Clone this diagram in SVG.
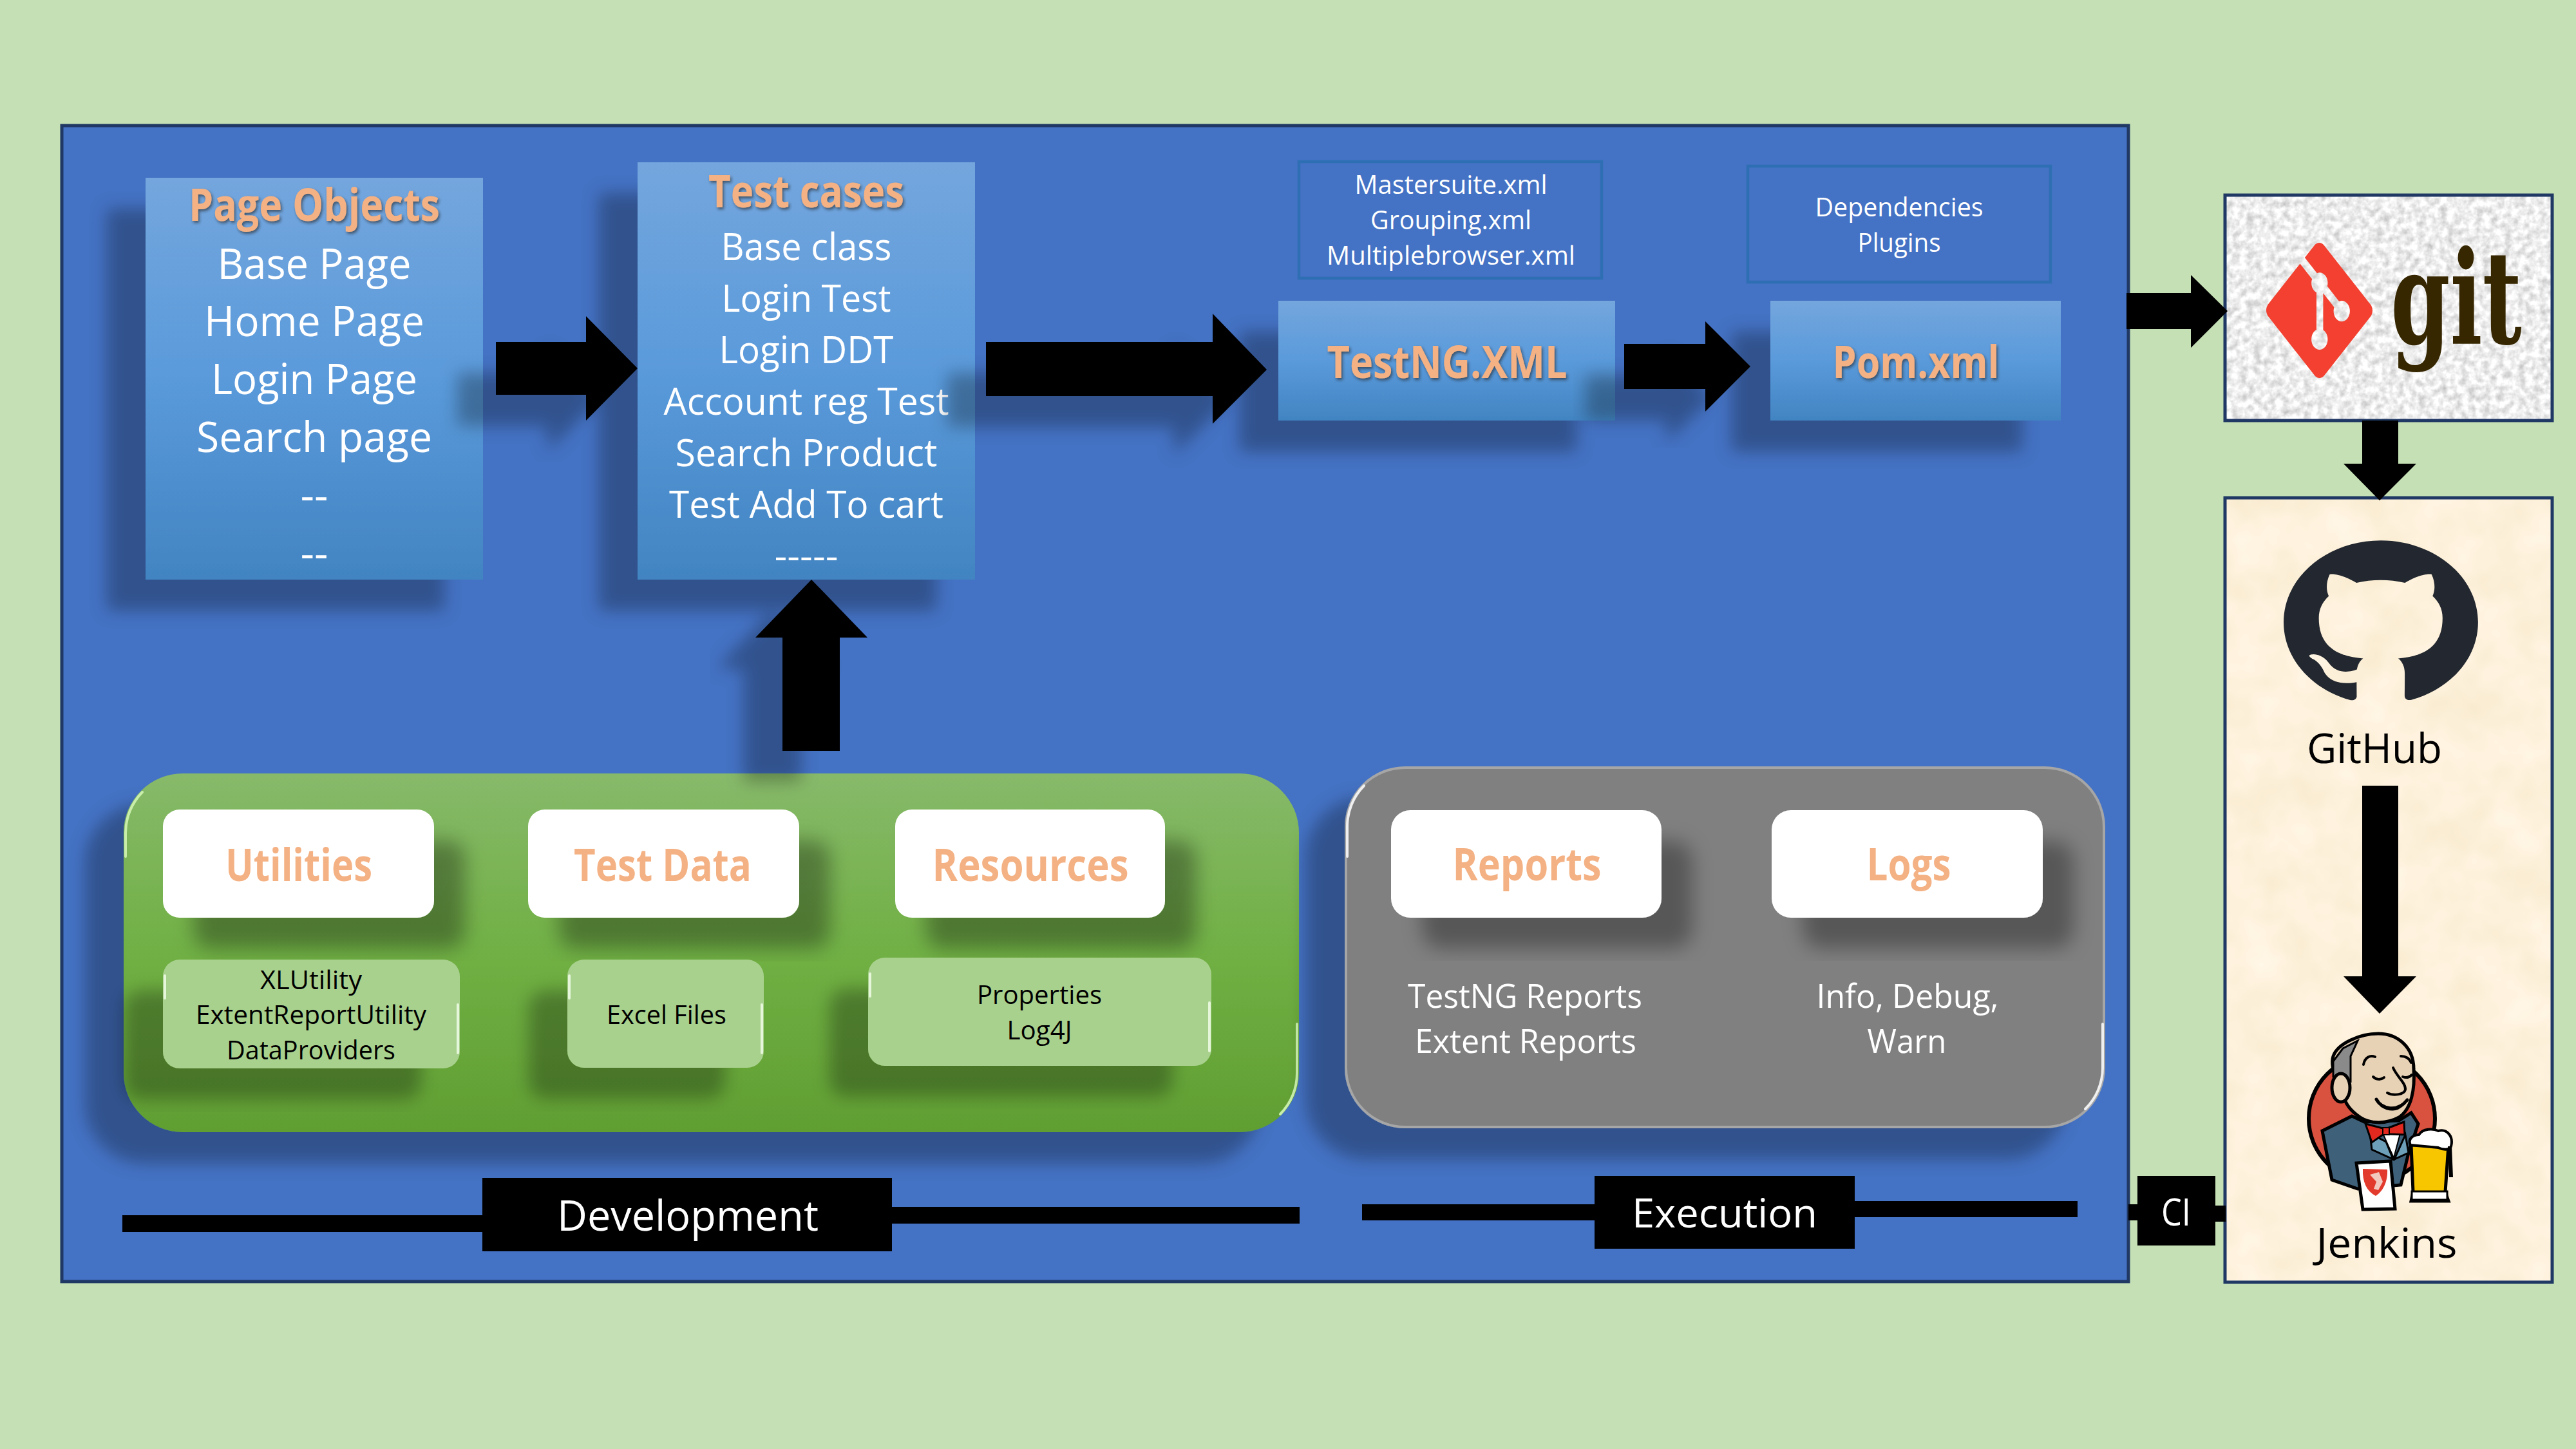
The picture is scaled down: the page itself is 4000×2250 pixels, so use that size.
<svg xmlns="http://www.w3.org/2000/svg" width="4000" height="2250" viewBox="0 0 4000 2250">
<style>
text{font-family:"Open Sans","Noto Sans","DejaVu Sans",sans-serif;text-anchor:middle}
.w{fill:#fff}
.k{fill:#000}
.t{fill:#f4b183;font-weight:700;font-size:70px}
.tb{filter:url(#ts)}
.a{fill:#000}
.navy{stroke:#1f3864;stroke-width:5}
.o{fill:none;stroke:#2e6fb3;stroke-width:4.5}
.hl{fill:none;stroke-linecap:round}
</style>
<defs>
<linearGradient id="blue" x1="0" y1="0" x2="0" y2="1"><stop offset="0" stop-color="#74a6dd"/><stop offset=".5" stop-color="#5a9adb"/><stop offset="1" stop-color="#4284c2"/></linearGradient>
<linearGradient id="green" x1="0" y1="0" x2="0" y2="1"><stop offset="0" stop-color="#87b96a"/><stop offset=".5" stop-color="#70b044"/><stop offset="1" stop-color="#609e32"/></linearGradient>
<filter id="sl" x="-40%" y="-40%" width="180%" height="180%"><feGaussianBlur in="SourceAlpha" stdDeviation="13"/><feOffset dx="-60" dy="48" result="b"/><feFlood flood-color="#000" flood-opacity=".28"/><feComposite in2="b" operator="in"/><feMerge><feMergeNode/><feMergeNode in="SourceGraphic"/></feMerge></filter>
<filter id="sr" x="-40%" y="-40%" width="180%" height="180%"><feGaussianBlur in="SourceAlpha" stdDeviation="15"/><feOffset dx="48" dy="48" result="b"/><feFlood flood-color="#000" flood-opacity=".32"/><feComposite in2="b" operator="in"/><feMerge><feMergeNode/><feMergeNode in="SourceGraphic"/></feMerge></filter>
<filter id="ts" x="-10%" y="-20%" width="120%" height="150%"><feGaussianBlur in="SourceAlpha" stdDeviation="2"/><feOffset dx="2" dy="3" result="b"/><feFlood flood-color="#222" flood-opacity=".6"/><feComposite in2="b" operator="in"/><feMerge><feMergeNode/><feMergeNode in="SourceGraphic"/></feMerge></filter>
<filter id="granite" x="0" y="0" width="1" height="1" color-interpolation-filters="sRGB"><feTurbulence type="fractalNoise" baseFrequency=".09" numOctaves="3" seed="4"/><feColorMatrix values="0.4 0 0 0 .73  0.4 0 0 0 .73  0.4 0 0 0 .73  0 0 0 0 1"/></filter>
<filter id="parch" x="0" y="0" width="1" height="1" color-interpolation-filters="sRGB"><feTurbulence type="fractalNoise" baseFrequency=".015" numOctaves="3" seed="7"/><feColorMatrix values="0.06 0 0 0 .965  0.06 0 0 0 .915  0.12 0 0 0 .8  0 0 0 0 1"/></filter>
</defs>
<rect width="4000" height="2250" fill="#c5e0b4"/>

<g id="main-panel"><rect x="96" y="195" width="3209" height="1795" fill="#4472c4" class="navy"/></g>

<g id="page-objects">
<rect x="226" y="276" width="524" height="624" fill="url(#blue)" filter="url(#sl)"/>
<text class="t tb" x="488" y="343" textLength="390" lengthAdjust="spacingAndGlyphs">Page Objects</text>
<g font-size="65">
<text class="w" x="488" y="433" textLength="301" lengthAdjust="spacingAndGlyphs">Base Page</text>
<text class="w" x="488" y="522" textLength="342" lengthAdjust="spacingAndGlyphs">Home Page</text>
<text class="w" x="488" y="612" textLength="320" lengthAdjust="spacingAndGlyphs">Login Page</text>
<text class="w" x="488" y="702" textLength="366" lengthAdjust="spacingAndGlyphs">Search page</text>
<text class="w" x="488" y="792" textLength="43" lengthAdjust="spacingAndGlyphs">--</text>
<text class="w" x="488" y="882" textLength="43" lengthAdjust="spacingAndGlyphs">--</text>
</g></g>

<g id="test-cases">
<rect x="990" y="252" width="524" height="648" fill="url(#blue)" filter="url(#sl)"/>
<text class="t tb" x="1252" y="322" textLength="304" lengthAdjust="spacingAndGlyphs">Test cases</text>
<g font-size="58">
<text class="w" x="1252" y="404" textLength="265" lengthAdjust="spacingAndGlyphs">Base class</text>
<text class="w" x="1252" y="484" textLength="263" lengthAdjust="spacingAndGlyphs">Login Test</text>
<text class="w" x="1252" y="564" textLength="271" lengthAdjust="spacingAndGlyphs">Login DDT</text>
<text class="w" x="1252" y="644" textLength="443" lengthAdjust="spacingAndGlyphs">Account reg Test</text>
<text class="w" x="1252" y="724" textLength="407" lengthAdjust="spacingAndGlyphs">Search Product</text>
<text class="w" x="1252" y="804" textLength="426" lengthAdjust="spacingAndGlyphs">Test Add To cart</text>
<text class="w" x="1252" y="884" textLength="99" lengthAdjust="spacingAndGlyphs">-----</text>
</g></g>

<g id="testng-files">
<rect x="2017" y="251" width="470" height="181" class="o"/>
<g font-size="41">
<text class="w" x="2253" y="301" textLength="299" lengthAdjust="spacingAndGlyphs">Mastersuite.xml</text>
<text class="w" x="2253" y="356" textLength="250" lengthAdjust="spacingAndGlyphs">Grouping.xml</text>
<text class="w" x="2253" y="411" textLength="386" lengthAdjust="spacingAndGlyphs">Multiplebrowser.xml</text>
</g></g>
<g id="pom-items">
<rect x="2714" y="258" width="470" height="180" class="o"/>
<g font-size="41">
<text class="w" x="2949" y="336" textLength="261" lengthAdjust="spacingAndGlyphs">Dependencies</text>
<text class="w" x="2949" y="391" textLength="129" lengthAdjust="spacingAndGlyphs">Plugins</text>
</g></g>

<g id="testng-xml">
<rect x="1985" y="467" width="523" height="186" fill="url(#blue)" filter="url(#sl)"/>
<text class="t tb" x="2247" y="587" textLength="373" lengthAdjust="spacingAndGlyphs">TestNG.XML</text>
</g>
<g id="pom-xml">
<rect x="2749" y="467" width="451" height="186" fill="url(#blue)" filter="url(#sl)"/>
<text class="t tb" x="2975" y="587" textLength="259" lengthAdjust="spacingAndGlyphs">Pom.xml</text>
</g>

<g id="development-group">
<rect x="192" y="1201" width="1825" height="557" rx="92" ry="92" fill="url(#green)" filter="url(#sl)"/>
<path class="hl" stroke="#c8eeaa" stroke-width="4" d="M195 1330V1293A90 90 0 0 1 221 1230M2014 1590V1666A90 90 0 0 1 1988 1730"/>
</g>
<g id="utilities" filter="url(#sr)"><rect x="253" y="1257" width="421" height="168" rx="26" fill="#fff"/></g>
<text class="t" x="464" y="1368" textLength="228" lengthAdjust="spacingAndGlyphs">Utilities</text>
<g id="test-data" filter="url(#sr)"><rect x="820" y="1257" width="421" height="168" rx="26" fill="#fff"/></g>
<text class="t" x="1029" y="1368" textLength="276" lengthAdjust="spacingAndGlyphs">Test Data</text>
<g id="resources" filter="url(#sr)"><rect x="1390" y="1257" width="419" height="168" rx="26" fill="#fff"/></g>
<text class="t" x="1600" y="1368" textLength="305" lengthAdjust="spacingAndGlyphs">Resources</text>

<g id="utility-items">
<rect x="253" y="1490" width="461" height="169" rx="26" fill="#a9d18e" filter="url(#sl)"/>
<path class="hl" stroke="#e6f6da" stroke-width="4" d="M256 1515V1550M711 1560V1635"/>
<g font-size="41">
<text class="k" x="483" y="1536" textLength="158" lengthAdjust="spacingAndGlyphs">XLUtility</text>
<text class="k" x="483" y="1590" textLength="358" lengthAdjust="spacingAndGlyphs">ExtentReportUtility</text>
<text class="k" x="483" y="1645" textLength="262" lengthAdjust="spacingAndGlyphs">DataProviders</text>
</g></g>
<g id="excel-files">
<rect x="881" y="1490" width="305" height="168" rx="26" fill="#a9d18e" filter="url(#sl)"/>
<path class="hl" stroke="#e6f6da" stroke-width="4" d="M884 1515V1550M1183 1560V1635"/>
<text class="k" font-size="41" x="1035" y="1590" textLength="186" lengthAdjust="spacingAndGlyphs">Excel Files</text>
</g>
<g id="properties">
<rect x="1348" y="1487" width="533" height="168" rx="26" fill="#a9d18e" filter="url(#sl)"/>
<path class="hl" stroke="#e6f6da" stroke-width="4" d="M1351 1512V1547M1878 1557V1632"/>
<g font-size="41">
<text class="k" x="1614" y="1559" textLength="194" lengthAdjust="spacingAndGlyphs">Properties</text>
<text class="k" x="1614" y="1614" textLength="101" lengthAdjust="spacingAndGlyphs">Log4J</text>
</g></g>

<g id="execution-group">
<rect x="2090" y="1192" width="1177" height="558" rx="92" ry="92" fill="#808080" stroke="#a6a6a6" stroke-width="4" filter="url(#sl)"/>
<path class="hl" stroke="#efefef" stroke-width="4" d="M2092 1330V1284A90 90 0 0 1 2118 1220M3265 1590V1658A90 90 0 0 1 3238 1722"/>
</g>
<g id="reports" filter="url(#sr)"><rect x="2160" y="1258" width="420" height="167" rx="30" fill="#fff"/></g>
<text class="t" x="2371" y="1367" textLength="231" lengthAdjust="spacingAndGlyphs">Reports</text>
<g id="logs" filter="url(#sr)"><rect x="2751" y="1258" width="421" height="167" rx="30" fill="#fff"/></g>
<text class="t" x="2964" y="1367" textLength="131" lengthAdjust="spacingAndGlyphs">Logs</text>
<g id="report-items" font-size="52">
<text class="w" x="2368" y="1565" textLength="364" lengthAdjust="spacingAndGlyphs">TestNG Reports</text>
<text class="w" x="2369" y="1635" textLength="344" lengthAdjust="spacingAndGlyphs">Extent Reports</text>
</g>
<g id="log-items" font-size="52">
<text class="w" x="2962" y="1565" textLength="283" lengthAdjust="spacingAndGlyphs">Info, Debug,</text>
<text class="w" x="2961" y="1635" textLength="123" lengthAdjust="spacingAndGlyphs">Warn</text>
</g>

<g id="git-box">
<rect x="3455" y="303" width="508" height="350" filter="url(#granite)"/>
<rect x="3455" y="303" width="508" height="350" fill="none" class="navy"/>
<path transform="translate(3519 377) scale(6.875 8.75)" fill="#f34030" d="M23.546 10.93L13.067.452c-.604-.603-1.582-.603-2.188 0L8.708 2.627l2.76 2.76c.645-.215 1.379-.07 1.889.441.516.515.658 1.258.438 1.9l2.658 2.66c.645-.223 1.387-.078 1.9.435.721.72.721 1.884 0 2.604-.719.719-1.881.719-2.6 0-.539-.541-.674-1.337-.404-1.996L12.86 8.955v6.525c.176.086.342.203.488.348.713.721.713 1.883 0 2.6-.719.721-1.889.721-2.609 0-.719-.719-.719-1.879 0-2.598.182-.18.387-.316.605-.406V8.835c-.217-.091-.424-.222-.6-.401-.545-.545-.676-1.342-.396-2.009L7.636 3.7.45 10.881c-.6.605-.6 1.584 0 2.189l10.48 10.477c.604.604 1.582.604 2.186 0l10.43-10.43c.605-.603.605-1.582 0-2.187"/>
<text transform="translate(3814 533) scale(.66 1)" x="0" y="0" font-size="200" font-weight="700" fill="#362701" style="font-family:'DejaVu Serif','Liberation Serif',serif">git</text>
</g>

<g id="ci-box">
<rect x="3455" y="773" width="508" height="1218" filter="url(#parch)"/>
<rect x="3455" y="773" width="508" height="1218" fill="none" class="navy"/>
</g>
<g id="github">
<path transform="translate(3546 836) scale(12.58 10.6)" fill="#232830" d="M12 .297c-6.63 0-12 5.373-12 12 0 5.303 3.438 9.8 8.205 11.385.6.113.82-.258.82-.577 0-.285-.01-1.04-.015-2.04-3.338.724-4.042-1.61-4.042-1.61C4.422 18.07 3.633 17.7 3.633 17.7c-1.087-.744.084-.729.084-.729 1.205.084 1.838 1.236 1.838 1.236 1.07 1.835 2.809 1.305 3.495.998.108-.776.417-1.305.76-1.605-2.665-.3-5.466-1.332-5.466-5.93 0-1.31.465-2.38 1.235-3.22-.135-.303-.54-1.523.105-3.176 0 0 1.005-.322 3.3 1.23.96-.267 1.98-.399 3-.405 1.02.006 2.04.138 3 .405 2.28-1.552 3.285-1.23 3.285-1.23.645 1.653.24 2.873.12 3.176.765.84 1.23 1.91 1.23 3.22 0 4.61-2.805 5.625-5.475 5.92.42.36.81 1.096.81 2.22 0 1.606-.015 2.896-.015 3.286 0 .315.21.69.825.57C20.565 22.092 24 17.592 24 12.297c0-6.627-5.373-12-12-12"/>
<text class="k" font-size="64" x="3687" y="1185" textLength="210" lengthAdjust="spacingAndGlyphs">GitHub</text>
</g>
<g id="jenkins">
<ellipse cx="3683" cy="1737" rx="98" ry="98" fill="#d9513f" stroke="#000" stroke-width="6"/>
<path d="M3606 1756L3652 1733L3671 1742L3725 1740L3744 1728L3755 1745L3740 1790L3728 1840L3661 1846L3621 1832Z" fill="#3f6079" stroke="#000" stroke-width="5"/>
<path d="M3680 1760L3705 1773L3716 1800L3683 1785Z M3735 1762L3718 1800L3740 1790Z" fill="#6d9fb9" stroke="#000" stroke-width="3"/>
<path d="M3700 1760L3727 1760L3717 1798Z" fill="#fff" stroke="#000" stroke-width="2"/>
<path d="M3693 1605C3722 1605 3748 1625 3748 1660C3750 1690 3745 1722 3725 1735C3705 1746 3680 1745 3665 1735C3650 1725 3642 1715 3636 1695L3630 1675C3622 1665 3620 1650 3623 1640C3630 1620 3665 1605 3693 1605Z" fill="#e8d2b5" stroke="#000" stroke-width="5"/>
<path d="M3623 1672L3623 1648L3638 1628L3661 1616L3650 1640L3650 1679Z" fill="#8a8a8a" stroke="#000" stroke-width="3"/>
<ellipse cx="3635" cy="1689" rx="14" ry="22" fill="#e8d2b5" stroke="#000" stroke-width="5"/>
<g fill="none" stroke="#000" stroke-width="4" stroke-linecap="round">
<path d="M3670 1653C3672 1642 3680 1638 3688 1641M3728 1640C3735 1640 3741 1643 3744 1650"/>
<path d="M3685 1672C3690 1677 3697 1677 3702 1673M3731 1672C3736 1674 3741 1673 3745 1669"/>
<path d="M3716 1658C3722 1672 3736 1682 3735 1692C3733 1700 3716 1702 3707 1697"/>
<path d="M3690 1707C3698 1722 3722 1728 3738 1708" stroke-width="5"/>
<path d="M3698 1717C3710 1725 3722 1724 3730 1716"/>
</g>
<path d="M3673 1745L3700 1752L3703 1760L3683 1774Z M3733 1742L3734 1762L3710 1761L3707 1752Z" fill="#e1291f" stroke="#000" stroke-width="3"/>
<rect x="3700" y="1751" width="10" height="11" fill="#e1291f" stroke="#000" stroke-width="2"/>
<path d="M3659 1806L3712 1803L3719 1877L3669 1878Z" fill="#fff" stroke="#000" stroke-width="5"/>
<path d="M3669 1815L3707 1816C3708 1835 3700 1850 3689 1857C3675 1850 3668 1835 3669 1815Z" fill="#e23a2c"/>
<path d="M3680 1824L3694 1820L3700 1835L3693 1848L3686 1846L3690 1835Z" fill="#f2c9bf"/>
<path d="M3744 1778L3802 1778L3797 1851L3802 1865L3744 1865L3747 1851Z" fill="#f8c600" stroke="#000" stroke-width="5"/>
<rect x="3745" y="1850" width="55" height="13" fill="#fff" stroke="#000" stroke-width="3"/>
<path d="M3743 1778C3738 1768 3748 1762 3756 1762C3762 1752 3778 1752 3786 1756C3800 1752 3810 1765 3806 1780C3804 1786 3794 1786 3786 1782L3743 1778Z" fill="#fff" stroke="#000" stroke-width="4"/>
<path d="M3804 1780L3806 1828" stroke="#000" stroke-width="6" fill="none"/>
<text class="k" font-size="64" x="3706" y="1953" textLength="219" lengthAdjust="spacingAndGlyphs">Jenkins</text>
</g>

<g id="connectors">
<polygon class="a" filter="url(#sl)" points="770,531 910,531 910,491 990,572 910,653 910,613 770,613"/>
<polygon class="a" filter="url(#sl)" points="1531,531 1883,531 1883,487 1967,574 1883,658 1883,615 1531,615"/>
<polygon class="a" filter="url(#sl)" points="2522,534 2648,534 2648,499 2718,569 2648,639 2648,604 2522,604"/>
<polygon class="a" filter="url(#sl)" points="1215,1166 1215,990 1173,990 1260,900 1347,990 1304,990 1304,1166"/>
<polygon class="a" points="3302,455 3402,455 3402,427 3459,483 3402,540 3402,511 3302,511"/>
<polygon class="a" points="3668,653 3724,653 3724,720 3752,720 3695,777 3639,720 3668,720"/>
<polygon class="a" points="3668,1220 3724,1220 3724,1516 3752,1516 3695,1574 3639,1516 3668,1516"/>
<rect class="a" x="190" y="1887" width="559" height="26"/>
<rect class="a" x="1385" y="1874" width="633" height="26"/>
<rect class="a" x="2115" y="1870" width="361" height="25"/>
<rect class="a" x="2880" y="1865" width="346" height="25"/>
<rect class="a" x="3305" y="1870" width="14" height="25"/>
<rect class="a" x="3440" y="1872" width="16" height="25"/>
</g>

<g id="development-label"><rect x="749" y="1829" width="636" height="114" fill="#000"/><text class="w" font-size="66" x="1068" y="1911" textLength="406" lengthAdjust="spacingAndGlyphs">Development</text></g>
<g id="execution-label"><rect x="2476" y="1826" width="404" height="113" fill="#000"/><text class="w" font-size="62" x="2678" y="1906" textLength="288" lengthAdjust="spacingAndGlyphs">Execution</text></g>
<g id="ci-label"><rect x="3319" y="1826" width="121" height="108" fill="#000"/><text class="w" font-size="58" x="3379" y="1903" textLength="46" lengthAdjust="spacingAndGlyphs">CI</text></g>
</svg>
